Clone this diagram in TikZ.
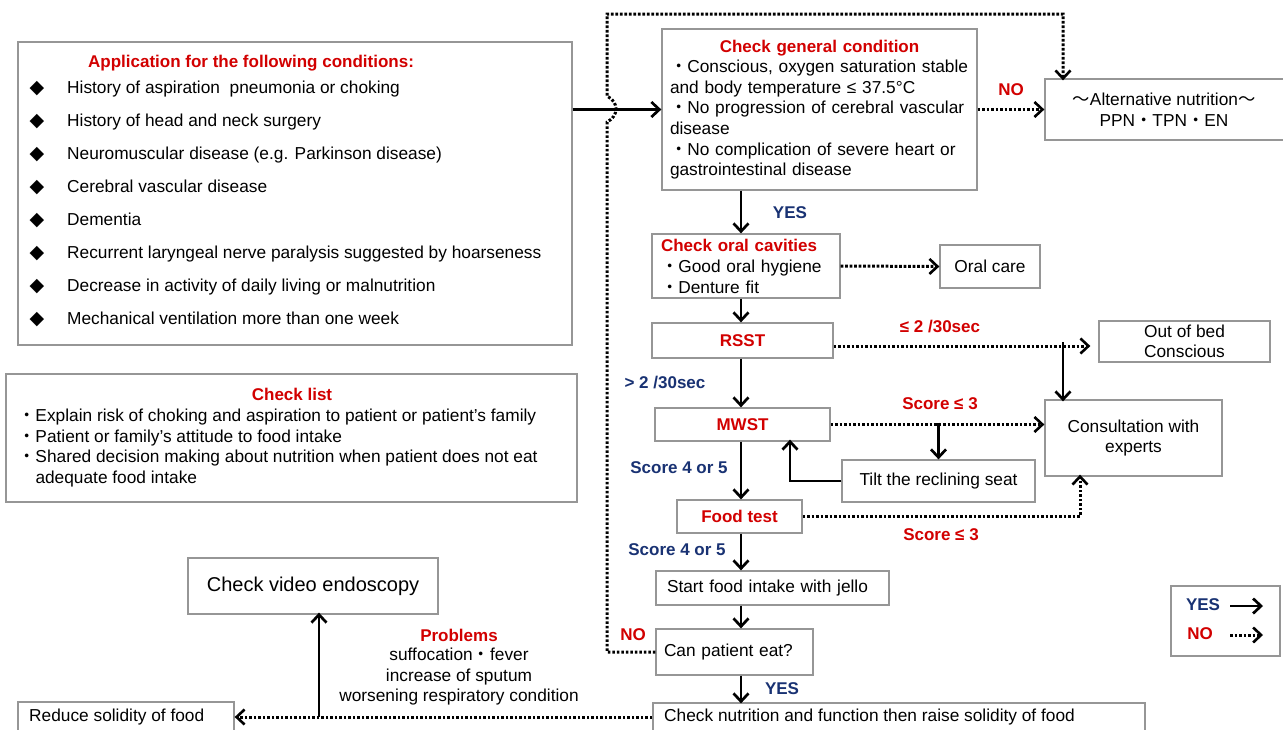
\documentclass[tikz,border=0pt]{standalone}
\usepackage{fontspec}
\setmainfont{Liberation Sans}
\newfontfamily\cjk{Noto Sans CJK JP}
\newfontfamily\dejavu{DejaVu Sans}
\usetikzlibrary{arrows.meta}
\definecolor{cred}{RGB}{210,0,0}
\definecolor{cblue}{RGB}{25,50,115}
\definecolor{bgray}{RGB}{150,150,150}
\newcommand{\md}{{\cjk ・}}
\begin{document}
\begin{tikzpicture}[x=1pt,y=-1pt,
  every node/.style={font=\fontsize{17.3}{20.6}\selectfont},
  box/.style={draw=bgray,line width=1.3pt,inner sep=0pt},
  t/.style={inner sep=0pt,text height=12.3pt,text depth=3.7pt},
  rb/.style={t,text=cred,font=\fontsize{17}{20}\selectfont\bfseries},
  bb/.style={t,text=cblue,font=\fontsize{17}{20}\selectfont\bfseries},
  yarrow/.style={line width=2.7pt,-{Straight Barb[length=8pt,width=15pt]}},
  narrow/.style={line width=3pt,dash pattern=on 2.6pt off 1.9pt,-{Straight Barb[length=8pt,width=15pt,line width=2.6pt]}},
]
\useasboundingbox (0,0) rectangle (1283,729);
\clip (0,0) rectangle (1283,729);
\fill[white] (0,0) rectangle (1283,729);

% ---------- left boxes ----------
\node[box,minimum width=554pt,minimum height=303pt] (app) at (295,193.5) {};
\node[rb] (apptitle) at (251,63) {Application for the following conditions:};
\foreach \i/\txt in {0/{History of aspiration\ \ pneumonia or choking},
  1/{History of head and neck surgery},
  2/{Neuromuscular disease (e.g. Parkinson disease)},
  3/{Cerebral vascular disease},
  4/{Dementia},
  5/{Recurrent laryngeal nerve paralysis suggested by hoarseness},
  6/{Decrease in activity of daily living or malnutrition},
  7/{Mechanical ventilation more than one week}}{
  \node[t,font=\fontsize{19}{22}\selectfont\dejavu] (dia\i) at (37,{89+33*\i}) {◆};
  \node[t,anchor=west] (item\i) at (67,{89+33*\i}) {\txt};
}

\node[box,minimum width=571pt,minimum height=128pt] (chk) at (291.5,438) {};
\node[rb] (chktitle) at (292,396) {Check list};
\node[t,anchor=west] (chk1) at (18,417) {\md Explain risk of choking and aspiration to patient or patient's family};
\node[t,anchor=west] (chk2) at (18,438) {\md Patient or family's attitude to food intake};
\node[t,anchor=west] (chk3) at (18,458) {\md Shared decision making about nutrition when patient does not eat};
\node[t,anchor=west] (chk4) at (35.3,479) {adequate food intake};

\node[box,minimum width=250pt,minimum height=56pt,font=\fontsize{20}{24}\selectfont] (video) at (313,586) {Check video endoscopy};
\node[box,minimum width=216pt,minimum height=45pt] (reduce) at (126,724.5) {};
\node[t,anchor=west] (reducetext) at (29,717) {Reduce solidity of food};

\node[rb] (probtitle) at (459,637) {Problems};
\node[align=center,inner sep=0pt,anchor=north,font=\fontsize{17.3}{20.6}\selectfont] (probtext) at (459,648) {suffocation\md fever\\increase of sputum\\worsening respiratory condition};

% ---------- right flow ----------
\coordinate (col) at (741,0);
\node[box,minimum width=315pt,minimum height=161pt,text width=299pt,align=left,inner xsep=8pt] (gen) at (819.5,109.5)
 {\makebox[\linewidth]{\bfseries\color{cred}\fontsize{17}{20}\selectfont Check general condition}\\
  \md Conscious, oxygen saturation stable\\
  and body temperature ≤ 37.5°C\\
  \md No progression of cerebral vascular\\
  disease\\
  \md No complication of severe heart or\\
  gastrointestinal disease};

\node[box,minimum width=245pt,minimum height=61pt] (alt) at (1167.5,109.5) {};
\node[align=center,inner sep=0pt] (alttext) at (1164,110) {{\cjk 〜}Alternative nutrition{\cjk 〜}\\PPN\md TPN\md EN};

\node[box,minimum width=188pt,minimum height=64pt,text width=170pt,align=left,inner xsep=9pt,font=\fontsize{17.3}{21}\selectfont] (oral) at (746,266)
 {{\bfseries\color{cred}\fontsize{17}{20}\selectfont Check oral cavities}\\
  \md Good oral hygiene\\
  \md Denture fit};
\node[box,minimum width=100pt,minimum height=43pt] (oralcare) at (990,266.5) {Oral care};

\node[box,minimum width=181pt,minimum height=35pt,text=cred,font=\fontsize{17}{20}\selectfont\bfseries] (rsst) at (742.5,340.5) {RSST};
\node[box,minimum width=171pt,minimum height=41pt,align=center] (outbed) at (1184.5,341.5) {Out of bed\\Conscious};

\node[box,minimum width=175pt,minimum height=33pt,text=cred,font=\fontsize{17}{20}\selectfont\bfseries] (mwst) at (742.5,424.5) {MWST};
\node[box,minimum width=177pt,minimum height=76pt,align=center] (consult) at (1133.5,438) {Consultation with\\experts};
\node[box,minimum width=193pt,minimum height=42pt] (tilt) at (938.5,481) {Tilt the reclining seat};

\node[box,minimum width=125pt,minimum height=33pt,text=cred,font=\fontsize{17}{20}\selectfont\bfseries] (food) at (739.5,516.5) {Food test};
\node[box,minimum width=233pt,minimum height=34pt,text width=211pt,align=left,inner xsep=11pt] (start) at (772.5,588) {Start food intake with jello};
\node[box,minimum width=157pt,minimum height=46pt,text width=141pt,align=left,inner xsep=8pt] (can) at (734.5,652) {Can patient eat?};
\node[box,minimum width=492pt,minimum height=45pt] (nutr) at (899,725.5) {};
\node[t,anchor=west] (nutrtext) at (664,717) {Check nutrition and function then raise solidity of food};

% legend
\node[box,minimum width=109pt,minimum height=70pt] (legend) at (1225.5,621) {};
\node[bb] (legyes) at (1203,606) {YES};
\node[rb] (legno) at (1200,635) {NO};
\coordinate (ly1) at (1230,606);
\coordinate (ly2) at (1263,606);
\coordinate (ln1) at (1230,635);
\coordinate (ln2) at (1263,635);
\draw[yarrow] (ly1) -- (ly2);
\draw[narrow] (ln1) -- (ln2);

% labels
\node[rb] (lno1) at (1011,91) {NO};
\node[bb] (lyes1) at (790,214) {YES};
\node[rb] (lrsst) at (940,328) {≤ 2 /30sec};
\node[bb] (lrsst2) at (665,384) {> 2 /30sec};
\node[rb] (lmw) at (940,405) {Score ≤ 3};
\node[bb] (lmw2) at (679,469) {Score 4 or 5};
\node[rb] (lft) at (941,536) {Score ≤ 3};
\node[bb] (lft2) at (677,551) {Score 4 or 5};
\node[rb] (lno2) at (633,636) {NO};
\node[bb] (lyes2) at (782,690) {YES};

% ---------- connectors ----------
\draw[yarrow] (gen.west -| app.east) -- (gen.west);
\draw[narrow] (gen.east) -- (alt.west);
\draw[yarrow] (gen.south -| col) -- (oral.north -| col);
\draw[narrow] (oral.east) -- (oralcare.west);
\draw[yarrow] (oral.south -| col) -- (rsst.north -| col);
\coordinate (rr) at (0,346);
\coordinate (cx) at (1063,0);
\draw[narrow] (rsst.east |- rr) -- ([xshift=-8pt]outbed.west |- rr);
\draw[yarrow] ([yshift=4pt]cx |- rr) -- ([yshift=-2pt]cx |- consult.north);
\draw[yarrow] (rsst.south -| col) -- (mwst.north -| col);
\draw[narrow] (mwst.east) -- (mwst.east -| consult.west);
\draw[yarrow] ([yshift=2pt]mwst.east -| tilt.north) -- (tilt.north);
\coordinate (cback) at (790,0);
\draw[yarrow] (tilt.west) -| ([yshift=2pt]cback |- mwst.south);
\coordinate (cft) at (1080,0);
\draw[narrow] (food.east) -| ([yshift=2pt]cft |- consult.south);
\draw[yarrow] (mwst.south -| col) -- (food.north -| col);
\draw[yarrow] (food.south -| col) -- (start.north -| col);
\draw[yarrow] (start.south -| col) -- (can.north -| col);
\draw[yarrow] (can.south -| col) -- ([yshift=-1pt]nutr.north -| col);
% NO loop
\coordinate (hopA) at (607,122);
\coordinate (hopB) at (607,96);
\coordinate (loopTL) at (607,14);
\coordinate (loopTR) at (1063,14);
\draw[narrow] (can.west) -| (hopA) .. controls (619,116) and (619,102) .. (hopB) -- (loopTL) -- (loopTR) -- ([yshift=-2pt]loopTR |- alt.north);
% bottom
\draw[narrow] (nutr.west |- nutrtext) -- (reduce.east |- nutrtext);
\coordinate (cup) at (319,0);
\draw[yarrow] (cup |- nutrtext) -- ([yshift=2pt]cup |- video.south);
\end{tikzpicture}
\end{document}
